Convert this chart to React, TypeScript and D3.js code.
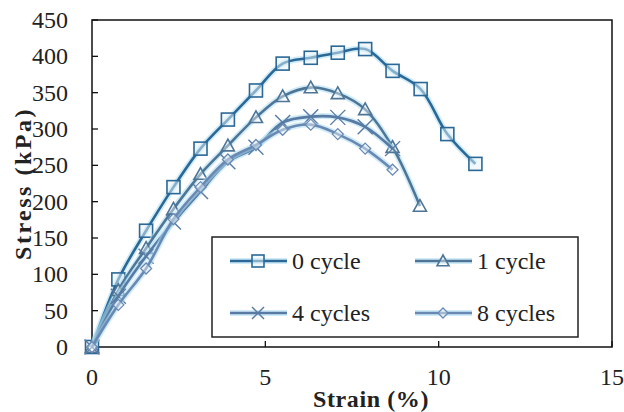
import React from "react";
import * as d3 from "d3";

// Strain (%) and stress (kPa) readings for each number of freeze-thaw cycles
const strain0 = [0, 0.76, 1.56, 2.35, 3.13, 3.92, 4.73, 5.5, 6.31, 7.09, 7.88, 8.67, 9.48, 10.25, 11.06];
const stress0 = [0, 93, 160, 220, 273, 313, 353, 390, 398, 405, 410, 380, 355, 293, 252];

const strain1 = [0, 0.76, 1.56, 2.35, 3.13, 3.92, 4.73, 5.5, 6.31, 7.09, 7.88, 8.67, 9.46];
const stress1 = [0, 78, 136, 190, 238, 277, 316, 345, 357, 349, 327, 275, 194];

const strain4 = [0, 0.76, 1.56, 2.35, 3.13, 3.92, 4.73, 5.5, 6.31, 7.09, 7.88, 8.67];
const stress4 = [0, 70, 125, 172, 214, 255, 275, 309, 317, 316, 303, 273];

const strain8 = [0, 0.76, 1.56, 2.35, 3.13, 3.92, 4.73, 5.5, 6.31, 7.09, 7.88, 8.67];
const stress8 = [0, 58, 108, 176, 220, 258, 278, 299, 306, 293, 273, 244];

const seriesNames = ["0 cycle", "1 cycle", "4 cycles", "8 cycles"];
const xTicks = [0, 5, 10, 15];
const yTicks = [0, 50, 100, 150, 200, 250, 300, 350, 400, 450];

type Marker = "square" | "triangle" | "cross" | "diamond";

const W = 624;
const H = 412;
const left = 92;
const right = 612;
const top = 20;
const bottom = 347;

const x = d3.scaleLinear().domain([0, 15]).range([left, right]);
const y = d3.scaleLinear().domain([0, 450]).range([bottom, top]);

const series = [
  { name: seriesNames[0], xs: strain0, ys: stress0, color: "#2b6896", marker: "square" as Marker },
  { name: seriesNames[1], xs: strain1, ys: stress1, color: "#4f7596", marker: "triangle" as Marker },
  { name: seriesNames[2], xs: strain4, ys: stress4, color: "#587aa3", marker: "cross" as Marker },
  { name: seriesNames[3], xs: strain8, ys: stress8, color: "#6a89b2", marker: "diamond" as Marker },
];

const line = d3
  .line<[number, number]>()
  .x((d) => x(d[0]))
  .y((d) => y(d[1]))
  .curve(d3.curveCatmullRom.alpha(0.5));

function MarkerShape({ type, cx, cy, color, s }: { type: Marker; cx: number; cy: number; color: string; s: number }) {
  const h = s / 2;
  if (type === "square") {
    return <rect x={cx - h} y={cy - h} width={s} height={s} fill="#e6f3fa" fillOpacity={0.5} stroke={color} strokeWidth={1.6} />;
  }
  if (type === "triangle") {
    const pts = `${cx},${cy - h} ${cx + h},${cy + h * 0.8} ${cx - h},${cy + h * 0.8}`;
    return <polygon points={pts} fill="#ffffff" fillOpacity={0.4} stroke={color} strokeWidth={1.6} />;
  }
  if (type === "cross") {
    return (
      <g stroke={color} strokeWidth={1.4}>
        <line x1={cx - h} y1={cy - h} x2={cx + h} y2={cy + h} />
        <line x1={cx - h} y1={cy + h} x2={cx + h} y2={cy - h} />
      </g>
    );
  }
  const pts = `${cx},${cy - h} ${cx + h},${cy} ${cx},${cy + h} ${cx - h},${cy}`;
  return <polygon points={pts} fill="#ffffff" fillOpacity={0.4} stroke={color} strokeWidth={1.3} />;
}

const markerSize: Record<Marker, number> = { square: 13, triangle: 13, cross: 15, diamond: 11 };

export default function App() {
  const font = "'Liberation Serif', 'Times New Roman', serif";
  const legendItems = [
    { s: series[0], lx: 230, ly: 261 },
    { s: series[1], lx: 415, ly: 261 },
    { s: series[2], lx: 230, ly: 313 },
    { s: series[3], lx: 415, ly: 313 },
  ];
  return (
    <svg width={W} height={H} style={{ position: "absolute", left: 0, top: 0, background: "#fff" }} fontFamily={font}>
      {/* plot frame */}
      <rect x={left} y={top} width={right - left} height={bottom - top} fill="none" stroke="#111" strokeWidth={1.5} />

      {/* y axis ticks and labels */}
      {yTicks.map((t) => (
        <g key={"y" + t}>
          <line x1={left} x2={left + 6} y1={y(t)} y2={y(t)} stroke="#111" strokeWidth={1.3} />
          <text x={68} y={y(t)} dy="0.34em" textAnchor="end" fontSize={24} fill="#222">
            {t}
          </text>
        </g>
      ))}

      {/* x axis ticks and labels */}
      {xTicks.map((t) => (
        <g key={"x" + t}>
          <line x1={x(t)} x2={x(t)} y1={bottom} y2={bottom - 6} stroke="#111" strokeWidth={1.3} />
          <text x={x(t)} y={385} textAnchor="middle" fontSize={24} fill="#222">
            {t}
          </text>
        </g>
      ))}

      {/* curves */}
      {series.map((s) => {
        const pts = s.xs.map((v, i) => [v, s.ys[i]] as [number, number]);
        return (
          <g key={s.name}>
            <path d={line(pts) || ""} fill="none" stroke="#a9dcf3" strokeOpacity={0.55} strokeWidth={6} />
            <path d={line(pts) || ""} fill="none" stroke={s.color} strokeWidth={2.6} />
            {pts.map((p, i) => (
              <MarkerShape key={i} type={s.marker} cx={x(p[0])} cy={y(p[1])} color={s.color} s={markerSize[s.marker]} />
            ))}
          </g>
        );
      })}

      {/* legend */}
      <rect x={212} y={237} width={366} height={100} fill="#fff" stroke="#222" strokeWidth={1.5} />
      {legendItems.map(({ s, lx, ly }) => (
        <g key={"lg" + s.name}>
          <line x1={lx} x2={lx + 57} y1={ly} y2={ly} stroke="#a9dcf3" strokeOpacity={0.55} strokeWidth={6} />
          <line x1={lx} x2={lx + 57} y1={ly} y2={ly} stroke={s.color} strokeWidth={2.6} />
          <MarkerShape type={s.marker} cx={lx + 28} cy={ly} color={s.color} s={s.marker === "diamond" ? 10 : 12} />
          <text x={lx + 62} y={ly} dy="0.34em" fontSize={24} fill="#222">
            {s.name}
          </text>
        </g>
      ))}

      {/* axis titles */}
      <text x={371} y={407} textAnchor="middle" fontSize={24} fontWeight="bold" fill="#222" letterSpacing={0.6}>
        Strain (%)
      </text>
      <text
        transform={`translate(31, ${(top + bottom) / 2}) rotate(-90)`}
        textAnchor="middle"
        fontSize={24}
        fontWeight="bold"
        fill="#222"
        letterSpacing={2.5}
      >
        Stress (kPa)
      </text>
    </svg>
  );
}
